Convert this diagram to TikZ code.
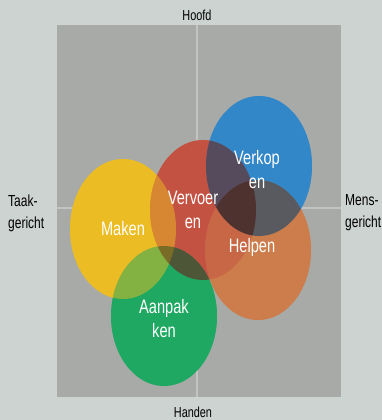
\documentclass[tikz,border=0pt]{standalone}
\usepackage{fontspec}
\setmainfont{Liberation Sans}
\newfontfamily\smal[FakeStretch=0.75]{Liberation Sans}
\usetikzlibrary{shapes.geometric}
\definecolor{achtergrond}{RGB}{205,211,208}
\definecolor{vlak}{RGB}{168,170,168}
\definecolor{blauw}{RGB}{50,135,200}
\definecolor{rood}{RGB}{195,82,66}
\definecolor{geel}{RGB}{235,188,35}
\definecolor{oranje}{RGB}{205,125,75}
\definecolor{groen}{RGB}{30,168,98}
\tikzset{
  bol/.style={ellipse, minimum width=106pt, minimum height=140pt, inner sep=0pt},
  waas/.style={fill opacity=0.5, x radius=53pt, y radius=70pt},
  schaduw/.style={black, fill opacity=0.3, x radius=53pt, y radius=70pt},
  bolnaam/.style={text=white, align=center, inner sep=0pt, font=\smal\fontsize{19.5}{24}\selectfont},
  as/.style={text=black, align=left, inner sep=0pt, font=\smal\fontsize{16}{22}\selectfont}
}

\begin{document}
\begin{tikzpicture}[x=1pt, y=-1pt]
    \coordinate (NW) at (0,0);
    \coordinate (SE) at (382,420);
    \coordinate (A) at (57,25);
    \coordinate (B) at (341,397);
    \coordinate (M) at (197,208);
    \useasboundingbox [fill=achtergrond] (NW) rectangle (SE);
    \fill [vlak] (A) rectangle (B);
    \draw [white, opacity=0.3, line width=1.5pt] (A |- M) -- (B |- M);
    \draw [white, opacity=0.3, line width=1.5pt] (A -| M) -- (B -| M);
    \node [bol, fill=geel]   (maken)     at (123,229) {};
    \node [bol, fill=rood]   (vervoeren) at (203,210) {};
    \node [bol, fill=groen]  (aanpakken) at (164,316) {};
    \node [bol, fill=blauw]  (verkopen)  at (259,166) {};
    \node [bol, fill=oranje] (helpen)    at (258,250) {};
    \fill [waas, oranje] (helpen) ellipse [];
    \fill [waas, blauw]  (verkopen) ellipse [];
    \fill [waas, groen]  (aanpakken) ellipse [];
    \fill [waas, rood]   (vervoeren) ellipse [];
    \fill [waas, geel]   (maken) ellipse [];
    \begin{scope}
        \clip (verkopen) ellipse [x radius=53pt, y radius=70pt];
        \fill [schaduw] (vervoeren) ellipse [];
        \fill [schaduw] (helpen) ellipse [];
    \end{scope}
    \begin{scope}
        \clip (aanpakken) ellipse [x radius=53pt, y radius=70pt];
        \fill [schaduw] (vervoeren) ellipse [];
    \end{scope}
    \node [bolnaam] (maken-t)     at (maken)     {Maken};
    \node [bolnaam] (vervoeren-t) at ([xshift=-10pt]vervoeren.center) {Vervoer\\en};
    \node [bolnaam] (aanpakken-t) at ([yshift=-3pt]aanpakken.center) {Aanpak\\ken};
    \node [bolnaam] (verkopen-t)  at ([xshift=-2pt, yshift=-4pt]verkopen.center) {Verkop\\en};
    \node [bolnaam] (helpen-t)    at ([xshift=-6pt, yshift=3pt]helpen.center) {Helpen};
    \node [as] (hoofd)  at (197,15)  {\fontsize{14.5}{18}\selectfont Hoofd};
    \node [as] (handen) at (193,412) {\fontsize{14.5}{18}\selectfont Handen};
    \node [as, anchor=west] (taak) at (8,213)   {Taak-\\gericht};
    \node [as, anchor=west] (mens) at (345,213) {Mens-\\gericht};
\end{tikzpicture}
\end{document}
